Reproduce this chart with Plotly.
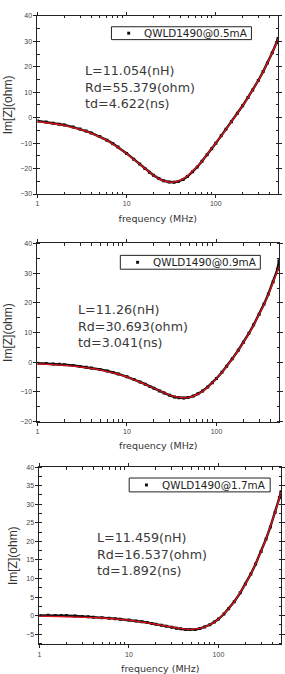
import plotly.graph_objects as go

# ---------------- data ----------------
freq = [1, 1.25, 1.5, 1.75, 2, 2.5, 3, 3.5, 4, 5, 6, 7, 8, 10, 12, 14, 16, 18, 20, 23, 26,
        30, 34, 38, 43, 48, 55, 62, 70, 80, 90, 100, 115, 130, 150, 175, 200, 230, 260,
        300, 340, 380, 430, 480, 500]

meas_05 = [-1.30, -1.75, -2.20, -2.55, -2.90, -3.70, -4.45, -5.25, -6.00, -7.40, -8.85, -10.20,
           -11.55, -14.05, -16.30, -18.25, -20.00, -21.45, -22.60, -23.95, -24.80, -25.30, -25.40,
           -25.05, -24.25, -23.15, -21.30, -19.35, -17.15, -14.60, -12.25, -10.05, -7.15, -4.60,
           -1.60, 1.70, 4.70, 7.95, 10.90, 14.60, 18.10, 21.45, 25.50, 29.45, 31.10]
fit_05 = [-1.54, -1.92, -2.30, -2.69, -3.07, -3.83, -4.58, -5.33, -6.07, -7.53, -8.95, -10.32,
          -11.65, -14.14, -16.38, -18.35, -20.05, -21.49, -22.66, -23.98, -24.83, -25.35, -25.33,
          -24.92, -24.03, -22.90, -21.09, -19.20, -17.07, -14.55, -12.23, -10.10, -7.23, -4.68,
          -1.66, 1.66, 4.63, 7.87, 10.85, 14.56, 18.06, 21.42, 25.46, 29.39, 30.93]

meas_09 = [-0.35, -0.45, -0.60, -0.70, -0.85, -1.10, -1.40, -1.65, -1.90, -2.45, -2.95, -3.45,
           -3.95, -4.90, -5.80, -6.65, -7.40, -8.15, -8.80, -9.65, -10.40, -11.15, -11.70, -11.95,
           -12.05, -11.90, -11.40, -10.65, -9.70, -8.30, -6.90, -5.45, -3.35, -1.35, 1.15, 4.05,
           6.75, 9.75, 12.60, 16.20, 19.65, 23.00, 27.10, 31.30, 34.20]
fit_09 = [-0.52, -0.64, -0.77, -0.90, -1.03, -1.29, -1.54, -1.80, -2.05, -2.55, -3.05, -3.54,
          -4.02, -4.95, -5.84, -6.67, -7.45, -8.17, -8.82, -9.68, -10.39, -11.12, -11.62, -11.90,
          -12.01, -11.89, -11.44, -10.74, -9.77, -8.40, -6.97, -5.53, -3.44, -1.44, 1.07, 3.96,
          6.63, 9.63, 12.46, 16.03, 19.44, 22.74, 26.74, 30.65, 32.20]

meas_17 = [0.05, 0.10, 0.05, 0.08, 0.02, -0.10, -0.20, -0.30, -0.40, -0.55, -0.70, -0.80, -0.95,
           -1.15, -1.40, -1.65, -1.85, -2.10, -2.30, -2.60, -2.85, -3.10, -3.35, -3.55, -3.70,
           -3.75, -3.70, -3.45, -3.05, -2.45, -1.70, -0.90, 0.45, 1.85, 3.75, 6.15, 8.50, 11.25,
           13.90, 17.30, 20.65, 23.90, 27.85, 31.80, 33.40]
fit_17 = [-0.12, -0.16, -0.19, -0.22, -0.25, -0.31, -0.37, -0.43, -0.50, -0.62, -0.74, -0.86,
          -0.98, -1.22, -1.45, -1.67, -1.88, -2.09, -2.28, -2.55, -2.79, -3.07, -3.30, -3.47,
          -3.61, -3.66, -3.61, -3.43, -3.09, -2.50, -1.77, -0.95, 0.40, 1.82, 3.74, 6.14, 8.49,
          11.23, 13.88, 17.30, 20.62, 23.87, 27.84, 31.75, 33.29]

series_names = ["QWLD1490@0.5mA", "QWLD1490@0.9mA", "QWLD1490@1.7mA"]
fit_texts = ["L=11.054(nH)<br>Rd=55.379(ohm)<br>td=4.622(ns)",
             "L=11.26(nH)<br>Rd=30.693(ohm)<br>td=3.041(ns)",
             "L=11.459(nH)<br>Rd=16.537(ohm)<br>td=1.892(ns)"]
x_tickvals = [1, 10, 100]
x_ticktext = ["1", "10", "100"]
x_minor_vals = [2, 3, 4, 5, 6, 7, 8, 9, 20, 30, 40, 50, 60, 70, 80, 90, 200, 300, 400, 500]
y_ranges = [[-30, 40], [-20, 40], [-7.7, 40]]
y_dticks = [10, 10, 5]
x_title = "frequency (MHz)"
y_title = "Im[Z](ohm)"

# ---------------- layout geometry ----------------
W, H = 285, 674
panels = [  # left, right, top, bottom (px)
    (36, 280, 12, 192),
    (36, 281, 242, 422),
    (38, 283, 468, 647),
]
text_pos = [(82, 84), (75, 325), (94, 556)]
legend_box = [(111, 253, 23, 36), (120, 262, 254, 268), (129, 272, 479, 493)]

measured = [meas_05, meas_09, meas_17]
fits = [fit_05, fit_09, fit_17]

FONT = "Liberation Sans, Arial, sans-serif"
WIDE = "DejaVu Sans, sans-serif"
fig = go.Figure()
layout = dict(
    width=W, height=H,
    margin=dict(l=0, r=0, t=0, b=0),
    paper_bgcolor="white", plot_bgcolor="white",
    font=dict(family=FONT, color="#333"),
    showlegend=False,
    annotations=[], shapes=[],
)


def px(x):
    return x / W


def py(y):
    return 1 - y / H


for i in range(3):
    sfx = "" if i == 0 else str(i + 1)
    xa, ya = "x" + sfx, "y" + sfx
    # dense measured data (thick trace + markers)
    fig.add_trace(go.Scatter(x=freq, y=measured[i], mode="lines", xaxis=xa, yaxis=ya,
                             line=dict(color="#111", width=2.4), hoverinfo="skip"))
    fig.add_trace(go.Scatter(x=freq, y=measured[i], mode="markers", xaxis=xa, yaxis=ya,
                             name=series_names[i],
                             marker=dict(symbol="square", size=3, color="#111")))
    fig.add_trace(go.Scatter(x=freq, y=fits[i], mode="lines", xaxis=xa, yaxis=ya,
                             name="fit", line=dict(color="#e3121b", width=1.3)))

    l, r, t, b = panels[i]
    axis_common = dict(
        showline=True, linecolor="#222", linewidth=1, mirror="allticks",
        showgrid=False, zeroline=False,
        ticks="outside", ticklen=3, tickcolor="#222",
        tickfont=dict(size=7, color="#444", family=FONT),
    )
    layout["xaxis" + sfx] = dict(
        axis_common, type="log", range=[0, 2.699],
        domain=[px(l), px(r)], anchor=ya,
        tickmode="array", tickvals=x_tickvals, ticktext=x_ticktext,
        minor=dict(tickmode="array", tickvals=x_minor_vals, ticks="inside",
                   ticklen=2.5, tickcolor="#222"),
        title=dict(text=x_title, font=dict(size=9.5, color="#333", family=WIDE), standoff=8),
    )
    layout["yaxis" + sfx] = dict(
        axis_common, range=y_ranges[i],
        domain=[py(b), py(t)], anchor=xa,
        dtick=y_dticks[i], tick0=0,
        minor=dict(dtick=y_dticks[i] / 2, ticks="inside", ticklen=2.5, tickcolor="#222"),
        title=dict(text=y_title, font=dict(size=12, color="#333", family=FONT), standoff=5),
    )
    # legend box (drawn as shapes + text)
    bl, br, bt, bb = legend_box[i]
    layout["shapes"].append(dict(type="rect", xref="paper", yref="paper",
                                 x0=px(bl), x1=px(br), y0=py(bb), y1=py(bt),
                                 line=dict(color="#222", width=1), fillcolor="white"))
    my = (bt + bb) / 2
    layout["shapes"].append(dict(type="rect", xref="paper", yref="paper",
                                 x0=px(bl + 16), x1=px(bl + 19), y0=py(my + 1.5), y1=py(my - 1.5),
                                 line=dict(width=0), fillcolor="#111"))
    layout["annotations"].append(dict(
        text=series_names[i], xref="paper", yref="paper",
        x=px(bl + 31), y=py(my), xanchor="left", yanchor="middle",
        showarrow=False, font=dict(family=WIDE, size=10.4, color="#222"),
    ))
    tx, ty = text_pos[i]
    layout["annotations"].append(dict(
        text=fit_texts[i], xref="paper", yref="paper",
        x=px(tx), y=py(ty), xanchor="left", yanchor="middle",
        align="left", showarrow=False,
        font=dict(family=WIDE, size=12.7, color="#3a3a3a"),
    ))

fig.update_layout(**layout)
fig.write_html("out.html")
